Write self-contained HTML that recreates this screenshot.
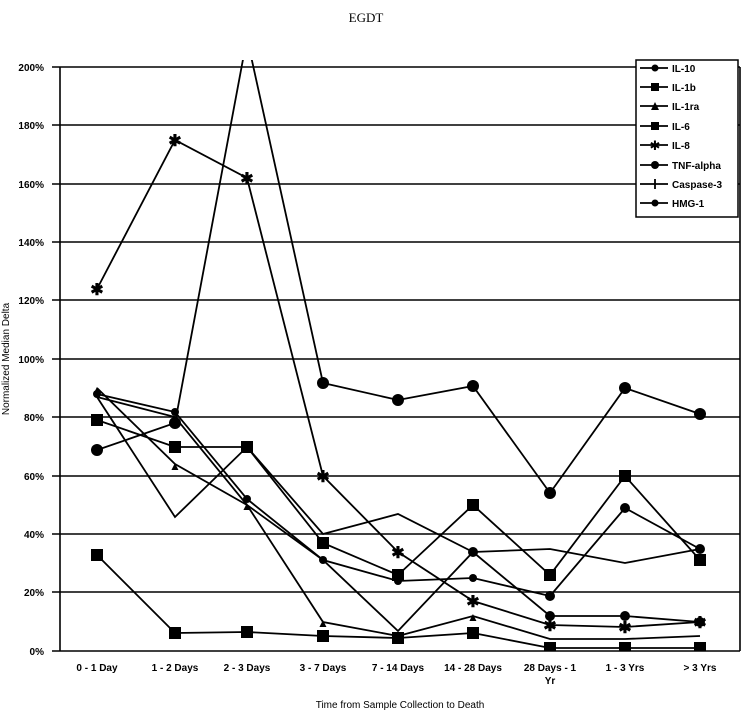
<!DOCTYPE html>
<html><head><style>body{margin:0;background:#fff}svg{display:block}</style></head><body>
<svg width="747" height="724" xmlns="http://www.w3.org/2000/svg" font-family="Liberation Sans, sans-serif">
<defs><clipPath id="c"><rect x="52" y="60" width="690" height="592"/></clipPath></defs>
<text x="366" y="22" font-family="Liberation Serif, serif" font-size="13" text-anchor="middle">EGDT</text>
<g stroke="#000" stroke-width="1.6">
<line x1="52" y1="67" x2="740" y2="67"/><line x1="52" y1="125" x2="740" y2="125"/><line x1="52" y1="184" x2="740" y2="184"/><line x1="52" y1="242" x2="740" y2="242"/><line x1="52" y1="300" x2="740" y2="300"/><line x1="52" y1="359" x2="740" y2="359"/><line x1="52" y1="417" x2="740" y2="417"/><line x1="52" y1="476" x2="740" y2="476"/><line x1="52" y1="534" x2="740" y2="534"/><line x1="52" y1="592" x2="740" y2="592"/><line x1="52" y1="651" x2="740" y2="651"/>
<line x1="60" y1="67" x2="60" y2="651"/><line x1="740" y1="67" x2="740" y2="651"/>
</g>
<g font-size="10" text-anchor="end" font-weight="bold">
<text x="44" y="71">200%</text><text x="44" y="129">180%</text><text x="44" y="188">160%</text><text x="44" y="246">140%</text><text x="44" y="304">120%</text><text x="44" y="363">100%</text><text x="44" y="421">80%</text><text x="44" y="480">60%</text><text x="44" y="538">40%</text><text x="44" y="596">20%</text><text x="44" y="655">0%</text>
</g>
<text transform="translate(9,359) rotate(-90)" font-size="10" text-anchor="middle">Normalized Median Delta</text>
<g font-size="10" text-anchor="middle" font-weight="bold">
<text x="97" y="671">0 - 1 Day</text><text x="175" y="671">1 - 2 Days</text><text x="247" y="671">2 - 3 Days</text><text x="323" y="671">3 - 7 Days</text><text x="398" y="671">7 - 14 Days</text><text x="473" y="671">14 - 28 Days</text><text x="550" y="671">28 Days - 1</text><text x="550" y="684">Yr</text><text x="625" y="671">1 - 3 Yrs</text><text x="700" y="671">&gt; 3 Yrs</text>
</g>
<text x="400" y="708" font-size="10" text-anchor="middle">Time from Sample Collection to Death</text>
<g fill="none" stroke="#000" stroke-width="1.8" clip-path="url(#c)">
<polyline points="97,289 175,140 247,178 323,476 398,552 473,601 550,625 625,627 700,622"/>
<polyline points="97,450 175,423 247,38 323,383 398,400 473,386 550,493 625,388 700,414"/>
<polyline points="97,394 175,412 247,499 323,560 398,581 473,578 550,596 625,508 700,549"/>
<polyline points="97,420 175,447 247,447 323,543 398,575 473,505 550,575 625,476 700,560"/>
<polyline points="97,555 175,633 247,632 323,636 398,638 473,633 550,648 625,648 700,648"/>
<polyline points="97,388 175,464 247,505 323,622 398,636 473,616 550,639 625,639 700,636"/>
<polyline points="97,397 175,517 247,447 323,534 398,514 473,552 550,549 625,563 700,549"/>
<polyline points="97,397 175,417 247,505 323,560 398,631 473,552 550,616 625,616 700,622"/>
</g>
<g fill="#000">
<rect x="91" y="414" width="12" height="12"/><rect x="169" y="441" width="12" height="12"/><rect x="241" y="441" width="12" height="12"/><rect x="317" y="537" width="12" height="12"/><rect x="392" y="569" width="12" height="12"/><rect x="467" y="499" width="12" height="12"/><rect x="544" y="569" width="12" height="12"/><rect x="619" y="470" width="12" height="12"/><rect x="694" y="554" width="12" height="12"/>
<rect x="91" y="549" width="12" height="12"/><rect x="169" y="627" width="12" height="12"/><rect x="241" y="626" width="12" height="12"/><rect x="317" y="630" width="12" height="12"/><rect x="392" y="632" width="12" height="12"/><rect x="467" y="627" width="12" height="12"/><rect x="544" y="642" width="12" height="9"/><rect x="619" y="642" width="12" height="9"/><rect x="694" y="642" width="12" height="9"/>
<circle cx="97" cy="450" r="6"/><circle cx="175" cy="423" r="6"/><circle cx="323" cy="383" r="6"/><circle cx="398" cy="400" r="6"/><circle cx="473" cy="386" r="6"/><circle cx="550" cy="493" r="6"/><circle cx="625" cy="388" r="6"/><circle cx="700" cy="414" r="6"/>
<circle cx="97" cy="394" r="4"/><circle cx="175" cy="412" r="4"/><circle cx="247" cy="499" r="4"/><circle cx="323" cy="560" r="4"/><circle cx="398" cy="581" r="4"/><circle cx="473" cy="578" r="4"/><circle cx="550" cy="596" r="5"/><circle cx="625" cy="508" r="5"/><circle cx="700" cy="549" r="5"/>
<circle cx="473" cy="552" r="5"/><circle cx="550" cy="616" r="5"/><circle cx="625" cy="616" r="5"/><circle cx="700" cy="622" r="5"/>
</g>
<g font-size="16" text-anchor="middle" font-weight="bold">
<text x="97" y="295">✱</text><text x="175" y="146">✱</text><text x="247" y="184">✱</text><text x="323" y="482">✱</text><text x="398" y="558">✱</text><text x="473" y="607">✱</text><text x="550" y="631">✱</text><text x="625" y="633">✱</text><text x="700" y="628">✱</text>
<text x="97" y="394" font-size="12">▲</text><text x="175" y="470" font-size="12">▲</text><text x="247" y="510" font-size="12">▲</text><text x="323" y="627" font-size="12">▲</text><text x="473" y="621" font-size="12">▲</text>
</g>
<rect x="636" y="60" width="102" height="157" fill="#fff" stroke="#000" stroke-width="1.5"/>
<g stroke="#000" stroke-width="1.8"><line x1="640" y1="68" x2="668" y2="68"/><line x1="640" y1="87" x2="668" y2="87"/><line x1="640" y1="106" x2="668" y2="106"/><line x1="640" y1="126" x2="668" y2="126"/><line x1="640" y1="145" x2="668" y2="145"/><line x1="640" y1="165" x2="668" y2="165"/><line x1="640" y1="184" x2="668" y2="184"/><line x1="640" y1="203" x2="668" y2="203"/><line x1="655" y1="179" x2="655" y2="189"/></g>
<g fill="#000"><circle cx="655" cy="68" r="3.5"/><rect x="651" y="83" width="8" height="8"/><polygon points="655,102 651,110 659,110"/><rect x="651" y="122" width="8" height="8"/><circle cx="655" cy="165" r="4"/><circle cx="655" cy="203" r="3.5"/></g>
<text x="655" y="150" font-size="13" text-anchor="middle">✱</text>
<g font-size="10" font-weight="bold"><text x="672" y="72">IL-10</text><text x="672" y="91">IL-1b</text><text x="672" y="110">IL-1ra</text><text x="672" y="130">IL-6</text><text x="672" y="149">IL-8</text><text x="672" y="169">TNF-alpha</text><text x="672" y="188">Caspase-3</text><text x="672" y="207">HMG-1</text></g>
</svg>
</body></html>
